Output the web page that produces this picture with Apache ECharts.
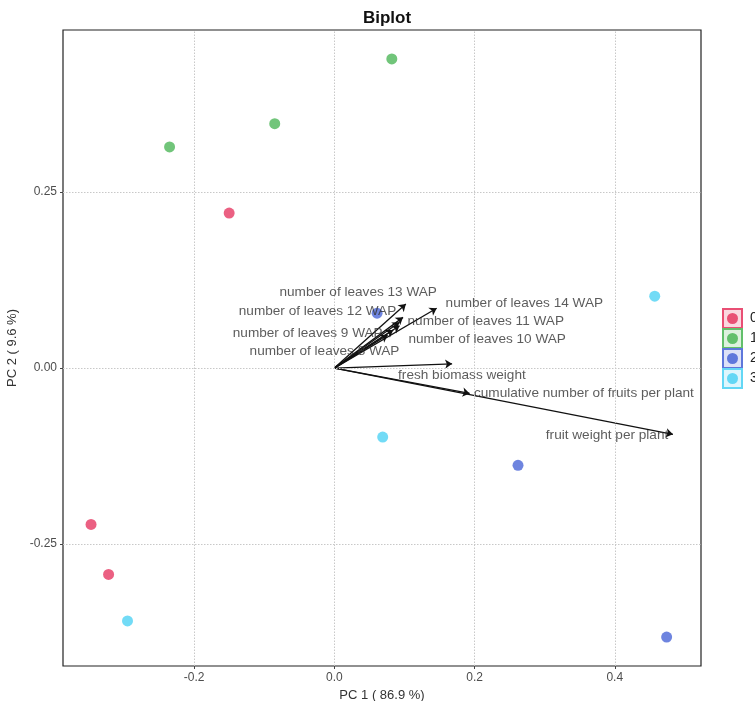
<!DOCTYPE html>
<html>
<head>
<meta charset="utf-8">
<script src="https://cdn.jsdelivr.net/npm/echarts@6/dist/echarts.min.js"></script>
<style>html,body{margin:0;padding:0;background:#fff;}#c{width:755px;height:701px;}</style>
</head>
<body>
<div id="c"></div>
<script>
// ---- data ----
const groups = ['0', '1', '2', '3'];
const groupColors = ['#E94F74', '#62BF6B', '#5E77DB', '#63D7F5'];

const sampleGroup = ['0', '0', '0', '1', '1', '1', '2', '2', '2', '3', '3', '3'];
const samplePC1 = [-0.150, -0.347, -0.322, 0.082, -0.085, -0.235, 0.061, 0.262, 0.474, 0.457, 0.069, -0.295];
const samplePC2 = [0.220, -0.222, -0.293, 0.439, 0.347, 0.314, 0.078, -0.138, -0.382, 0.102, -0.098, -0.359];

const variables = [
  'number of leaves 8 WAP', 'number of leaves 9 WAP', 'number of leaves 10 WAP',
  'number of leaves 11 WAP', 'number of leaves 12 WAP', 'number of leaves 13 WAP',
  'number of leaves 14 WAP', 'fresh biomass weight',
  'cumulative number of fruits per plant', 'fruit weight per plant'
];
const loadPC1 = [0.076, 0.084, 0.093, 0.098, 0.093, 0.102, 0.146, 0.168, 0.193, 0.483];
const loadPC2 = [0.047, 0.054, 0.060, 0.072, 0.065, 0.091, 0.085, 0.006, -0.036, -0.094];
// label anchor (text centre) in data units
const labelPC1 = [-0.014, -0.038, 0.218, 0.216, -0.024, 0.034, 0.271, 0.182, 0.356, 0.389];
const labelPC2 = [0.024, 0.050, 0.041, 0.067, 0.080, 0.107, 0.092, -0.010, -0.036, -0.095];

const xTicks = [-0.2, 0.0, 0.2, 0.4];
const yTicks = [-0.25, 0.0, 0.25];
const xRange = [-0.387, 0.523];
const yRange = [-0.423, 0.480];

// ---- chart ----
const chart = echarts.init(document.getElementById('c'));
const FONT = 'Liberation Sans, Arial, sans-serif';

const pointSeries = groups.map((g, gi) => ({
  name: g,
  type: 'scatter',
  symbolSize: 11,
  z: 3,
  itemStyle: { color: groupColors[gi], opacity: 0.9 },
  data: sampleGroup.map((sg, i) => sg === g ? [samplePC1[i], samplePC2[i]] : null).filter(d => d)
}));

const gridLineStyle = { color: '#c8c8c8', type: [1.5, 1.5], width: 1 };

const option = {
  backgroundColor: '#fff',
  animation: false,
  title: {
    text: 'Biplot',
    left: 382, top: 5, textAlign: 'center',
    textStyle: { fontSize: 17, fontWeight: 'bold', color: '#111', fontFamily: FONT }
  },
  grid: {
    left: 63, right: 54, top: 30, bottom: 35,
    outerBoundsMode: 'none', containLabel: false,
    show: true, borderColor: '#222', borderWidth: 1.2, backgroundColor: '#fff'
  },
  xAxis: {
    type: 'value', min: xRange[0], max: xRange[1],
    name: 'PC 1 ( 86.9 %)', nameLocation: 'middle', nameGap: 21,
    nameTextStyle: { fontSize: 13, color: '#333', fontFamily: FONT },
    axisLine: { show: false, onZero: false },
    splitLine: { show: false },
    axisTick: { show: true, customValues: xTicks, length: 3, lineStyle: { color: '#444' } },
    axisLabel: { customValues: xTicks, formatter: v => v.toFixed(1), fontSize: 12, color: '#4d4d4d', margin: 6, fontFamily: FONT }
  },
  yAxis: {
    type: 'value', min: yRange[0], max: yRange[1],
    name: 'PC 2 ( 9.6 %)', nameLocation: 'middle', nameGap: 38,
    nameTextStyle: { fontSize: 13, color: '#333', fontFamily: FONT },
    axisLine: { show: false, onZero: false },
    splitLine: { show: false },
    axisTick: { show: true, customValues: yTicks, length: 3, lineStyle: { color: '#444' } },
    axisLabel: { customValues: yTicks, formatter: v => v.toFixed(2), fontSize: 12, color: '#4d4d4d', margin: 6, fontFamily: FONT }
  },
  graphic: groups.map((g, gi) => ({
    type: 'group', left: 722, top: 308 + gi * 20,
    children: [
      { type: 'rect', shape: { x: 0, y: 0, width: 19, height: 19 },
        style: { fill: echarts.color.modifyAlpha(groupColors[gi], 0.22), stroke: groupColors[gi], lineWidth: 2 } },
      { type: 'circle', shape: { cx: 9.5, cy: 9.5, r: 5.5 }, style: { fill: groupColors[gi] } },
      { type: 'text', x: 27, y: 9.5, style: { text: g, fill: '#222', fontSize: 14, verticalAlign: 'middle', fontFamily: FONT } }
    ]
  })),
  series: [
    {
      type: 'scatter', data: [], silent: true, z: 1,
      markLine: {
        silent: true, symbol: 'none', label: { show: false }, animation: false,
        lineStyle: gridLineStyle,
        data: xTicks.map(v => ({ xAxis: v })).concat(yTicks.map(v => ({ yAxis: v })))
      }
    },
    ...pointSeries,
    {
      type: 'lines', coordinateSystem: 'cartesian2d', z: 4,
      symbol: ['none', 'arrow'], symbolSize: 7,
      lineStyle: { color: '#111', width: 1.3, opacity: 1 },
      data: variables.map((v, i) => ({ coords: [[0, 0], [loadPC1[i], loadPC2[i]]] }))
    },
    {
      type: 'scatter', symbolSize: 0, z: 5, silent: true,
      label: {
        show: true, position: 'inside', formatter: p => p.name,
        fontSize: 13.6, color: '#333', fontFamily: FONT
      },
      data: variables.map((v, i) => ({ name: v, value: [labelPC1[i], labelPC2[i]] }))
    }
  ]
};
chart.setOption(option);
</script>
</body>
</html>
